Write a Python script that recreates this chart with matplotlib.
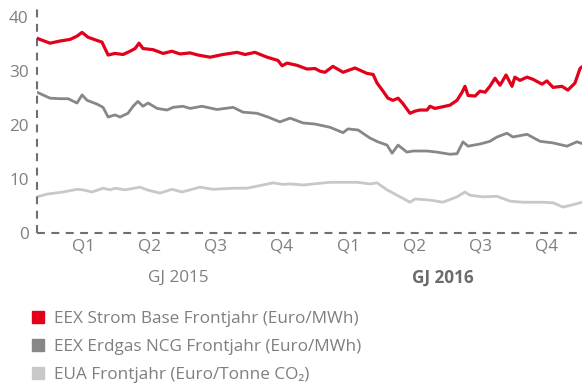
import matplotlib.pyplot as plt
from matplotlib.lines import Line2D

plt.rcParams['font.family'] = ['Open Sans', 'DejaVu Sans']

# months since start of GJ 2015 (0 = 1 Jan 2015)
strom_m = [-0.59, 0.00, 0.45, 0.91, 1.22, 1.45, 1.72, 2.13, 2.35, 2.63, 2.94, 3.31,
           3.62, 3.85, 4.03, 4.21, 4.66, 5.12, 5.52, 5.89, 6.34, 6.70, 7.25, 7.83,
           8.47, 8.83, 9.28, 9.83, 10.32, 10.51, 10.73, 11.18, 11.64, 12.00, 12.23,
           12.45, 12.81, 13.27, 13.81, 14.35, 14.63, 14.81, 15.08, 15.30, 15.53,
           15.76, 15.98, 16.30, 16.53, 16.75, 17.07, 17.21, 17.43, 17.66, 18.11,
           18.43, 18.66, 18.79, 18.93, 19.25, 19.47, 19.70, 19.92, 20.15, 20.38,
           20.65, 20.92, 21.05, 21.28, 21.60, 21.87, 22.28, 22.50, 22.78, 23.18,
           23.45, 23.77, 24.00, 24.09]
strom = [36.1, 35.2, 35.6, 35.9, 36.5, 37.2, 36.3, 35.7, 35.4, 33.0, 33.3, 33.1,
         33.7, 34.2, 35.2, 34.2, 34.0, 33.3, 33.7, 33.2, 33.4, 33.0, 32.6, 33.1,
         33.5, 33.1, 33.5, 32.6, 32.0, 31.0, 31.5, 31.1, 30.4, 30.5, 30.0,
         29.8, 30.9, 29.8, 30.6, 29.6, 29.4, 27.8, 26.3, 25.0, 24.6,
         25.0, 24.0, 22.2, 22.6, 22.8, 22.8, 23.5, 23.1, 23.3, 23.7,
         24.6, 26.1, 27.2, 25.5, 25.4, 26.3, 26.1, 27.2, 28.7, 27.4,
         29.3, 27.2, 28.9, 28.3, 28.9, 28.5, 27.6, 28.2, 27.0, 27.2,
         26.5, 27.8, 30.5, 30.8]

gas_m = [-0.59, -0.32, 0.00, 0.45, 0.82, 1.22, 1.45, 1.68, 2.13, 2.40, 2.63, 2.94,
         3.17, 3.53, 3.76, 3.98, 4.21, 4.44, 4.85, 5.30, 5.57, 6.02, 6.34, 6.88,
         7.56, 8.29, 8.74, 9.37, 9.87, 10.41, 10.87, 11.46, 12.00, 12.68, 13.27,
         13.49, 13.95, 14.49, 14.85, 15.26, 15.49, 15.76, 16.16, 16.44, 17.07,
         17.52, 18.11, 18.43, 18.70, 18.93, 19.47, 19.92, 20.24, 20.69, 20.96,
         21.60, 22.19, 22.78, 23.41, 23.86, 24.09]
gas = [26.1, 25.6, 25.0, 24.9, 24.9, 24.1, 25.6, 24.6, 23.9, 23.3, 21.5, 21.9,
       21.5, 22.2, 23.5, 24.4, 23.5, 24.1, 23.1, 22.8, 23.3, 23.5, 23.1, 23.5,
       22.9, 23.3, 22.4, 22.2, 21.5, 20.6, 21.3, 20.4, 20.2, 19.6, 18.6,
       19.3, 19.1, 17.6, 16.9, 16.3, 14.8, 16.3, 15.0, 15.2, 15.2,
       15.0, 14.6, 14.7, 16.9, 16.1, 16.5, 17.0, 17.8, 18.5, 17.8,
       18.3, 17.0, 16.7, 16.1, 16.9, 16.6]

eua_m = [-0.59, -0.14, 0.59, 1.22, 1.49, 1.90, 2.40, 2.72, 2.94, 3.40, 4.08, 4.39,
         4.98, 5.52, 5.98, 6.79, 7.38, 8.29, 8.92, 9.64, 10.10, 10.55, 10.87,
         11.46, 12.68, 13.90, 14.49, 14.81, 15.26, 15.85, 16.30, 16.53, 17.21,
         17.79, 18.43, 18.79, 19.02, 19.61, 20.24, 20.83, 21.42, 22.32, 22.78,
         23.23, 23.64, 24.09]
eua = [6.7, 7.2, 7.6, 8.1, 8.0, 7.6, 8.3, 8.0, 8.3, 8.0, 8.5, 8.0,
       7.4, 8.1, 7.6, 8.5, 8.1, 8.3, 8.3, 8.9, 9.3, 9.0, 9.1,
       8.9, 9.4, 9.4, 9.1, 9.3, 8.0, 6.7, 5.7, 6.3, 6.1,
       5.7, 6.7, 7.6, 7.0, 6.7, 6.8, 5.9, 5.7, 5.7, 5.6,
       4.8, 5.2, 5.7]

quarter_pos = [1.5, 4.5, 7.5, 10.5, 13.5, 16.5, 19.5, 22.5]
quarter_lbl = ['Q1', 'Q2', 'Q3', 'Q4', 'Q1', 'Q2', 'Q3', 'Q4']
yticks = [0, 10, 20, 30, 40]

labels = ['EEX Strom Base Frontjahr (Euro/MWh)',
          'EEX Erdgas NCG Frontjahr (Euro/MWh)',
          'EUA Frontjahr (Euro/Tonne CO₂)']
colors = ['#e2001a', '#878787', '#c8c8c8']

txt = '#7f7f7f'
axis_col = '#6f6f6f'

fig = plt.figure(figsize=(5.82, 3.87), dpi=100)
ax = fig.add_axes([0.0636, 0.398, 0.9364, 0.581])

ax.plot(eua_m, eua, color=colors[2], lw=2.0, zorder=2)
ax.plot(gas_m, gas, color=colors[1], lw=2.0, zorder=3)
ax.plot(strom_m, strom, color=colors[0], lw=2.3, zorder=4)

ax.set_xlim(-0.59, 24.09)
ax.set_ylim(0, 41.7)

for s in ['top', 'right']:
    ax.spines[s].set_visible(False)
for s in ['left', 'bottom']:
    ax.spines[s].set_color(axis_col)
    ax.spines[s].set_linewidth(1.5)
    ax.spines[s].set_linestyle((0, (3.8, 3.1)))
    ax.spines[s].set_capstyle('butt')

ax.set_yticks(yticks)
ax.set_xticks(quarter_pos)
ax.set_xticklabels(quarter_lbl)
ax.tick_params(length=0, labelsize=12.3, colors=txt)
ax.tick_params(axis='y', pad=6)
ax.tick_params(axis='x', pad=4)

ax.annotate('GJ 2015', xy=(5.8, 0), xycoords=('data', 'axes fraction'),
            xytext=(0, -32.5), textcoords='offset points',
            ha='center', va='center', fontsize=12.3, color=txt)
ax.annotate('GJ 2016', xy=(17.8, 0), xycoords=('data', 'axes fraction'),
            xytext=(0, -32.5), textcoords='offset points',
            ha='center', va='center', fontsize=12.3, color='#6b6b6b',
            fontweight='bold')

handles = [Line2D([], [], ls='none', marker='s', markersize=9, color=c)
           for c in colors]
leg = fig.legend(handles, labels, loc='upper left',
                 bbox_to_anchor=(0.051, 0.197), frameon=False,
                 fontsize=12.3, handlelength=1.0, handletextpad=0.4,
                 labelspacing=0.72, borderpad=0, borderaxespad=0)
for t in leg.get_texts():
    t.set_color(txt)

fig.savefig('out.png', dpi=100)
